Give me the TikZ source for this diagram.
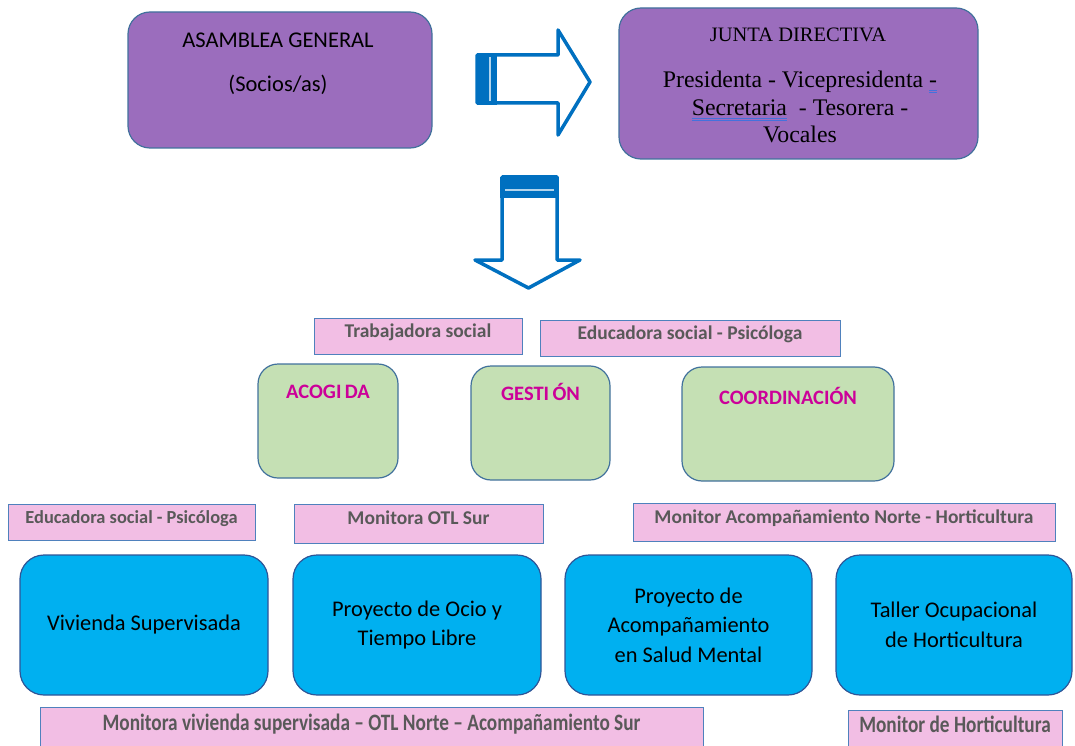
\documentclass[tikz,border=0pt]{standalone}
\usepackage{fontspec}
\setmainfont{Carlito}
\newfontfamily\juntafont{Liberation Serif}
\newfontfamily\narrowfont[FakeStretch=0.82]{Carlito}
\usetikzlibrary{positioning}
\definecolor{purplefill}{RGB}{155,109,189}
\definecolor{greenfill}{RGB}{197,224,180}
\definecolor{bluefill}{RGB}{0,176,240}
\definecolor{pinkfill}{RGB}{242,190,228}
\definecolor{boxedge}{RGB}{65,113,156}
\definecolor{darkedge}{RGB}{47,85,151}
\definecolor{pinkedge}{RGB}{79,129,189}
\definecolor{greytext}{RGB}{89,89,89}
\definecolor{magentatext}{RGB}{204,0,153}
\definecolor{arrowblue}{RGB}{0,112,192}
\definecolor{ulblue}{RGB}{68,114,220}
\newcommand\dblul[1]{\setbox0\hbox{#1}\rlap{\textcolor{ulblue}{\rule[-3.4pt]{\wd0}{0.8pt}}}\rlap{\textcolor{ulblue}{\rule[-5.6pt]{\wd0}{0.8pt}}}\box0}
\tikzset{
  purplebox/.style={draw=boxedge,fill=purplefill,line width=1.2pt,rounded corners=22pt,inner sep=0pt},
  greenbox/.style={draw=boxedge,fill=greenfill,line width=1.2pt,rounded corners=20pt,inner sep=0pt},
  bluebox/.style={draw=darkedge,fill=bluefill,line width=1.2pt,rounded corners=24pt,inner sep=0pt,align=center,font={\fontsize{22.4}{29.5}\selectfont}},
  pinklabel/.style={draw=pinkedge,fill=pinkfill,line width=1pt,inner xsep=0pt,inner ysep=0pt,text height=19pt,text depth=17pt,text=greytext,font={\fontsize{19.5}{22}\selectfont\bfseries}},
  greentext/.style={text=magentatext,inner sep=0pt,anchor=base,font={\fontsize{20.5}{24}\selectfont\bfseries}},
  bigarrow/.style={draw=arrowblue,line width=3.5pt,line join=round,fill=white}
}
\begin{document}
\begin{tikzpicture}[x=1pt,y=-1pt]
  \useasboundingbox (0,0) rectangle (1075,746);
  % top level
  \node[purplebox,minimum width=304pt,minimum height=136pt](asamblea)at(280,80){};
  \node[align=center,font={\fontsize{22.5}{44}\selectfont}](asambleatxt)at(278,64){ASAMBLEA GENERAL\\(Socios/as)};
  \node[purplebox,minimum width=359pt,minimum height=151pt](junta)at(798.5,83.5){};
  \node[font={\juntafont\fontsize{20.5}{24}\selectfont}](juntatxt)at(798,35){JUNTA DIRECTIVA};
  \node[align=center,font={\juntafont\fontsize{23.8}{27.5}\selectfont}](cargos)at(800,107){Presidenta - Vicepresidenta \dblul{-}\\\dblul{Secretaria}~~- Tesorera -\\Vocales};

  % arrows
  \draw[bigarrow](477,55)--(558,55)--(558,30)--(590,82)--(558,135)--(558,103)--(477,103)--cycle;
  \fill[arrowblue](477,53)rectangle(497,105);
  \draw[white!70!arrowblue,line width=1.2pt](490,57)--(490,101);
  \draw[bigarrow](502,177)--(557,177)--(557,260)--(580,260)--(528.5,288)--(475,260)--(502,260)--cycle;
  \fill[arrowblue](500,177)rectangle(559,198);
  \draw[white!70!arrowblue,line width=1.2pt](505,190)--(554,190);

  % areas
  \node[pinklabel,minimum width=208pt,minimum height=36pt](trabajadora)at(418,336){Trabajadora social};
  \node[pinklabel,minimum width=300pt,minimum height=36pt](educadora)at(690,338){Educadora social - Psicóloga};
  \node[greenbox,minimum width=140pt,minimum height=114pt](acogida)at(328,421){};
  \node[greentext](acogidatxt)at([yshift=-35pt]acogida.north){ACOGI\,DA};
  \node[greenbox,minimum width=139pt,minimum height=114pt](gestion)at(540.5,423){};
  \node[greentext](gestiontxt)at([yshift=-35pt]gestion.north){GESTI\,ÓN};
  \node[greenbox,minimum width=212pt,minimum height=114pt](coordinacion)at(788,424){};
  \node[greentext](coordinaciontxt)at([yshift=-38pt]coordinacion.north){COORDINACIÓN};

  % projects
  \node[pinklabel,minimum width=247pt,minimum height=36pt,font={\fontsize{18.4}{22}\selectfont\bfseries}](educadorados)at(131.5,522){Educadora social - Psicóloga};
  \node[pinklabel,minimum width=249pt,minimum height=39pt](otlsur)at(418.5,523.5){Monitora OTL Sur};
  \node[pinklabel,minimum width=422pt,minimum height=38pt](norte)at(844,522){Monitor Acompañamiento Norte - Horticultura};
  \node[bluebox,minimum width=248pt,minimum height=140pt](vivienda)at(144,625){Vivienda Supervisada};
  \node[bluebox,minimum width=248pt,minimum height=140pt](ocio)at(417,625){Proyecto de Ocio y\\Tiempo Libre};
  \node[bluebox,minimum width=247pt,minimum height=140pt](salud)at(688.5,625){Proyecto de\\Acompañamiento\\en Salud Mental};
  \node[bluebox,minimum width=236pt,minimum height=140pt](taller)at(954,625){Taller Ocupacional\\de Horticultura};
  \node[pinklabel,minimum width=663pt,minimum height=44pt,font={\narrowfont\fontsize{23.5}{26}\selectfont\bfseries}](monitoras)at(371.5,729){Monitora vivienda supervisada – OTL Norte – Acompañamiento Sur};
  \node[pinklabel,minimum width=214pt,minimum height=42pt,font={\narrowfont\fontsize{23.5}{26}\selectfont\bfseries}](horticultura)at(955,731){Monitor de Horticultura};
\end{tikzpicture}
\end{document}
